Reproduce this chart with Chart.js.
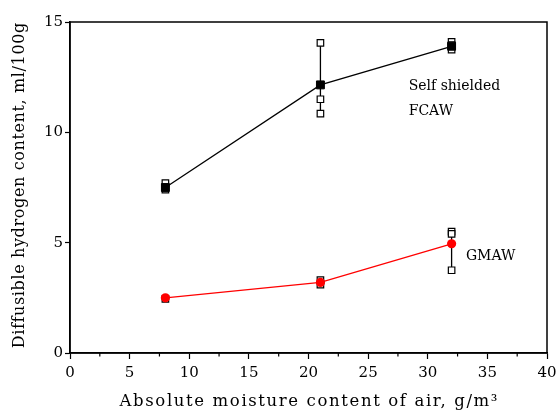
<!DOCTYPE html>
<html><head><meta charset="utf-8">
<script src="https://cdn.jsdelivr.net/npm/chart.js@4.4.1/dist/chart.umd.min.js"></script>
<style>html,body{margin:0;padding:0;background:#fff}#wrap{width:558px;height:416px}</style>
</head><body><div id="wrap"><canvas id="c" width="558" height="416"></canvas></div>
<script>
const moisture = [8, 21, 32];
const fcawMean = [7.5, 12.15, 13.9];
const gmawMean = [2.5, 3.2, 4.95];
const fcawSamples = [[7.7, 7.4], [14.05, 11.5, 10.85], [14.1, 13.75, 13.95]];
const gmawSamples = [[2.45], [3.3, 3.1], [5.5, 5.4, 3.75]];
const xTicks = [0, 5, 10, 15, 20, 25, 30, 35, 40];
const yTicks = [0, 5, 10, 15];
const xTitle = 'Absolute moisture content of air, g/m³';
const yTitle = 'Diffusible hydrogen content, ml/100g';
const fcawLabel = ['Self shielded', 'FCAW'];
const gmawLabel = ['GMAW'];

const FONT = '"DejaVu Serif", "Liberation Serif", serif';

function pts(xs, ys){ return xs.map((x,i)=>({x, y: ys[i]})); }
function samplePts(samples){ const out=[]; samples.forEach((arr,i)=>arr.forEach(v=>out.push({x: moisture[i], y: v}))); return out; }
function rangeSets(samples, means, color){
  const sets=[];
  samples.forEach((arr,i)=>{
    const all = arr.concat([means[i]]);
    const lo = Math.min(...all), hi = Math.max(...all);
    if (hi - lo > 0.3) sets.push({type:'scatter', data:[{x:moisture[i],y:lo},{x:moisture[i],y:hi}], showLine:true, borderColor:color, borderWidth:1.3, pointRadius:0, order:5});
  });
  return sets;
}

const datasets = [
  ...rangeSets(fcawSamples, fcawMean, '#000'),
  ...rangeSets(gmawSamples, gmawMean, '#000'),
  {type:'scatter', data: pts(moisture, fcawMean), showLine:true, borderColor:'#000', borderWidth:1.3, pointRadius:0, order:4},
  {type:'scatter', data: pts(moisture, gmawMean), showLine:true, borderColor:'#ff0000', borderWidth:1.3, pointRadius:0, order:4},
  {type:'scatter', data: samplePts(fcawSamples), pointStyle:'rect', pointRadius:4.6, backgroundColor:'#fff', borderColor:'#000', borderWidth:1.2, order:3},
  {type:'scatter', data: samplePts(gmawSamples), pointStyle:'rect', pointRadius:4.6, backgroundColor:'#fff', borderColor:'#000', borderWidth:1.2, order:3},
  {type:'scatter', data: pts(moisture, fcawMean), pointStyle:'rect', pointRadius:5.6, backgroundColor:'#000', borderColor:'#000', borderWidth:1, order:1},
  {type:'scatter', data: pts(moisture, gmawMean), pointStyle:'circle', pointRadius:4.6, backgroundColor:'#ff0000', borderColor:'#ff0000', borderWidth:0, order:1}
];

function spacedText(ctx, text, cx, cy, targetW){
  ctx.letterSpacing = '0px';
  const w = ctx.measureText(text).width;
  const sp = Math.max(0, (targetW - w) / (text.length - 1));
  ctx.letterSpacing = sp.toFixed(2) + 'px';
  const w2 = ctx.measureText(text).width;
  ctx.textAlign = 'left';
  ctx.fillText(text, cx - (w2 - sp) / 2, cy);
  ctx.letterSpacing = '0px';
}

const framePlugin = {
  id:'frame',
  afterDraw(chart){
    const {ctx, chartArea:a, scales:{x, y}} = chart;
    ctx.save();
    ctx.strokeStyle='#000'; ctx.lineWidth=1.5;
    ctx.strokeRect(a.left, a.top, a.right-a.left, a.bottom-a.top);
    // minor x ticks
    ctx.lineWidth=1.2;
    for (let i=0;i<xTicks.length-1;i++){
      const px = x.getPixelForValue((xTicks[i]+xTicks[i+1])/2);
      ctx.beginPath(); ctx.moveTo(px, a.bottom); ctx.lineTo(px, a.bottom+3.5); ctx.stroke();
    }
    // annotations
    ctx.fillStyle='#000'; ctx.font='14px '+FONT; ctx.textBaseline='middle'; ctx.textAlign='left';
    const fx = x.getPixelForValue(28.4), fy = y.getPixelForValue(12.1);
    ctx.fillText(fcawLabel[0], fx, fy);
    ctx.fillText(fcawLabel[1], fx, fy+25);
    ctx.fillText(gmawLabel[0], x.getPixelForValue(33.2), y.getPixelForValue(4.4));
    // axis titles
    ctx.font='16.5px '+FONT;
    spacedText(ctx, xTitle, (a.left+a.right)/2, 402, 378);
    ctx.save();
    ctx.translate(20, (a.top+a.bottom)/2 - 2);
    ctx.rotate(-Math.PI/2);
    ctx.font='16px '+FONT;
    spacedText(ctx, yTitle, 0, 0, 325);
    ctx.restore();
    ctx.restore();
  }
};

new Chart(document.getElementById('c'), {
  data:{datasets},
  plugins:[framePlugin],
  options:{
    responsive:false, animation:false, events:[],
    layout:{padding:{left:0, right:11, top:22, bottom:0}},
    plugins:{legend:{display:false}, tooltip:{enabled:false}},
    scales:{
      x:{type:'linear', min:0, max:40,
        afterBuildTicks(s){ s.ticks = xTicks.map(v=>({value:v})); },
        afterFit(s){ s.height = 63; s.paddingLeft = 0; s.paddingRight = 0; },
        border:{display:true, color:'#000', width:1.5},
        grid:{display:true, drawOnChartArea:false, drawTicks:true, tickLength:6, tickColor:'#000', tickWidth:1.2},
        ticks:{color:'#000', font:{family:FONT, size:15}, padding:5, maxRotation:0},
        title:{display:false}
      },
      y:{type:'linear', min:0, max:15,
        afterBuildTicks(s){ s.ticks = yTicks.map(v=>({value:v})); },
        afterFit(s){ s.width = 70; s.paddingTop = 0; s.paddingBottom = 0; },
        border:{display:true, color:'#000', width:1.5},
        grid:{display:true, drawOnChartArea:false, drawTicks:true, tickLength:5, tickColor:'#000', tickWidth:1.2},
        ticks:{color:'#000', font:{family:FONT, size:15}, padding:2},
        title:{display:false}
      }
    }
  }
});
</script></body></html>
